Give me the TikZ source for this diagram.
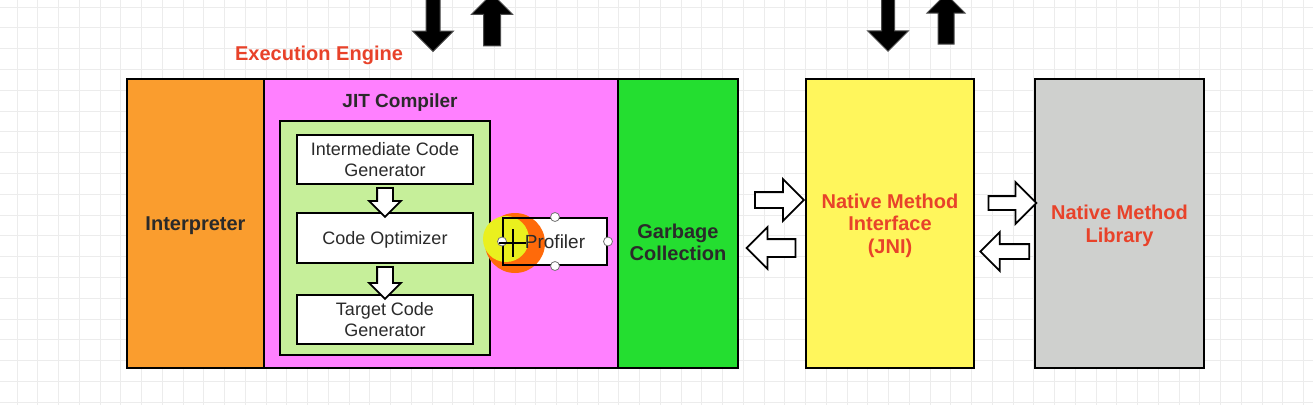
\documentclass[tikz,border=0pt]{standalone}
\usepackage{fontspec}
\setmainfont{Liberation Sans}
\usepackage{xcolor}
\usepackage{tikz}
\usetikzlibrary{positioning,calc,shapes.arrows}
\definecolor{interpOrange}{RGB}{250,157,46}
\definecolor{jitPink}{RGB}{255,128,255}
\definecolor{gcGreen}{RGB}{36,222,48}
\definecolor{jniYellow}{RGB}{255,246,92}
\definecolor{libGray}{RGB}{207,208,206}
\definecolor{innerGreen}{RGB}{198,239,154}
\definecolor{labelRed}{RGB}{232,66,42}
\definecolor{darkText}{RGB}{42,42,42}
\definecolor{gridGray}{RGB}{236,236,236}
\definecolor{hlOrange}{RGB}{255,106,10}
\definecolor{hlYellow}{RGB}{234,240,30}
\newcommand{\boxlabelfont}{\fontsize{20}{22.5}\selectfont\bfseries}
\newcommand{\stagefont}{\fontsize{18}{21.5}\selectfont}
\tikzset{
  part/.style={draw=black, line width=2pt, inner sep=0pt, minimum height=289pt},
  stage/.style={draw=black, line width=2pt, fill=white, inner sep=0pt, text depth=0pt,
    minimum width=176pt, minimum height=49pt, align=center, font=\stagefont, text=darkText},
  boxlabel/.style={font=\boxlabelfont, align=center, text depth=0pt},
  hollow arrow/.style={single arrow, draw=black, line width=1.8pt, fill=white,
    inner xsep=0pt, minimum height=#1},
  solid arrow/.style={single arrow, draw=black!70, line width=1pt, fill=black,
    inner xsep=0pt, minimum height=#1},
  handle/.style={draw=black!55, line width=0.8pt, fill=white, circle, inner sep=0pt, minimum size=9pt},
  gridline/.style={gridGray, line width=0.9pt}
}

\begin{document}
\begin{tikzpicture}[x=1pt, y=-1pt]
\path[use as bounding box, clip] (0,0) rectangle (1313,405);
% background grid
\fill[white] (0,0) rectangle (1313,405);
\foreach \i in {0,...,62} \draw[gridline] (17+20.75*\i,0) -- ++(0,405);
\foreach \j in {0,...,19} \draw[gridline] (0,7+20.8*\j) -- ++(1313,0);

% Execution engine
\node[part, minimum width=137pt, fill=interpOrange, boxlabel, text=darkText] (interp) at (195.5,223.5) {Interpreter};
\node[part, minimum width=354pt, fill=jitPink] (jit) at (441,223.5) {};
\node[part, minimum width=120pt, fill=gcGreen] (gc) at (678,223.5) {};
\node[boxlabel, text=darkText] (gctext) at (678,242) {Garbage\\Collection};
\node[boxlabel, text=labelRed] (title) at (319,53) {Execution Engine};
\node[boxlabel, font=\fontsize{19}{21}\selectfont\bfseries, text=darkText] (jitlabel) at (400,101) {JIT Compiler};

% JIT stages
\node[draw=black, line width=2pt, fill=innerGreen, inner sep=0pt, minimum width=210pt, minimum height=234pt] (stages) at (385,238) {};
\node[stage] (icg) at (385,159.5) {Intermediate Code\\Generator};
\node[stage, minimum height=50pt] (opt) at (385,238) {Code Optimizer};
\node[stage] (tcg) at (385,319.5) {Target Code\\Generator};
\node[hollow arrow=29pt, inner ysep=7pt, single arrow head extend=8pt, rotate=-90] (icg2opt) at ($(icg.south)!0.5!(opt.north)$) {};
\node[hollow arrow=32pt, inner ysep=7pt, single arrow head extend=8pt, rotate=-90] (opt2tcg) at ($(opt.south)!0.5!(tcg.north)$) {};

% Profiler (selected, with cursor)
\coordinate (hl) at (515,243);
\coordinate (hlb) at (506,239);
\fill[hlOrange] (hl) circle (30pt);
\fill[hlYellow] (hlb) circle (23pt);
\node[stage, minimum width=104pt, minimum height=47pt, font=\fontsize{19}{21}\selectfont,
  path picture={\fill[hlOrange] (hl) circle (30pt); \fill[hlYellow] (hlb) circle (23pt);}] (prof) at (555,241.5) {Profiler};
\node[handle] at (prof.north) {};
\node[handle] at (prof.south) {};
\node[handle] at (prof.east) {};
\node[handle] at (prof.west) {};
\draw[black, line width=1.8pt] (499,243) -- (526,243) (513,229) -- (513,257);

% Native side
\node[part, minimum width=168pt, fill=jniYellow, boxlabel, text=labelRed] (nmi) at (890,223.5) {Native Method\\Interface\\(JNI)};
\node[part, minimum width=169pt, fill=libGray, boxlabel, text=labelRed] (nml) at (1119.5,223.5) {Native Method\\Library};

% Hollow arrows between parts
\node[hollow arrow=49pt, inner ysep=7pt, single arrow head extend=13pt] (toJni) at ($(gc.east)!0.5!(nmi.west) + (3.5,-23.5)$) {};
\node[hollow arrow=49pt, inner ysep=8pt, single arrow head extend=12pt, rotate=180] (fromJni) at ($(gc.east)!0.5!(nmi.west) + (3.5,24.5)$) {};
\node[hollow arrow=48pt, inner ysep=6pt, single arrow head extend=14pt] (toLib) at ($(nmi.east)!0.5!(nml.west) + (4.5,-20.5)$) {};
\node[hollow arrow=49pt, inner ysep=6.5pt, single arrow head extend=12pt, rotate=180] (fromLib) at ($(nmi.east)!0.5!(nml.west) + (4,28)$) {};

% Solid arrows at the top
\node[solid arrow=60pt, inner ysep=6.5pt, single arrow head extend=13.5pt, rotate=-90] (engineIn) at (433,18) {};
\node[solid arrow=52pt, inner ysep=8pt, single arrow head extend=12pt, rotate=90] (engineOut) at (492,24) {};
\node[solid arrow=60pt, inner ysep=6pt, single arrow head extend=14pt, rotate=-90] (jniIn) at (888,18) {};
\node[solid arrow=50pt, inner ysep=7.5pt, single arrow head extend=11pt, rotate=90] (jniOut) at (946,23) {};
\end{tikzpicture}
\end{document}
